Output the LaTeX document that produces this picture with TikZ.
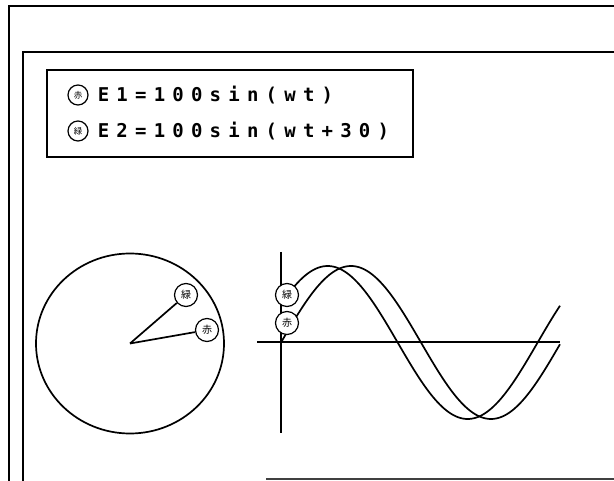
\documentclass[tikz,border=0pt]{standalone}
\usepackage{fontspec}
\newfontfamily\eqfont[LetterSpace=38]{DejaVu Sans Mono Bold}
\newfontfamily\cjk{Noto Sans CJK JP}
\usetikzlibrary{positioning}

\begin{document}
\begin{tikzpicture}[
  x=1pt, y=-1pt,
  frame/.style={line width=2pt},
  axis/.style={line width=2pt},
  wave/.style={line width=1.7pt},
  tag/.style={circle, draw, fill=white, line width=1.2pt, minimum size=23pt, inner sep=0pt, font=\cjk\fontsize{10}{10}\selectfont},
  smalltag/.style={tag, minimum size=20pt, font=\cjk\fontsize{8.5}{8.5}\selectfont},
  eqn/.style={inner sep=0pt, font=\eqfont\fontsize{19}{19}\selectfont},
]
\useasboundingbox (0,0) rectangle (614,481);

% Marcos de ventana
\draw[frame] (9,481) -- (9,6) -- (614,6);
\draw[frame] (23,481) -- (23,52) -- (614,52);
\draw[line width=1.5pt, black!75] (266,479) -- (614,479);

% Leyenda
\draw[frame] (47,70) rectangle (413,157);
\node[smalltag] (ra) at (78,95) {赤};
\node[smalltag] (ga) at (78,131) {緑};
\node[eqn, right=9pt of ra] (e1) {E1=100sin(wt)};
\node[eqn, right=9pt of ga] (e2) {E2=100sin(wt+30)};

% Diagrama de fasores
\coordinate (ctr) at (130,343.5);
\draw[wave] (ctr) circle[x radius=94pt, y radius=90pt];
\node[tag] (rc) at (207,330) {赤};
\node[tag] (gc) at (186,295) {緑};
\draw[wave] (ctr) -- (rc);
\draw[wave] (ctr) -- (gc);

% Ejes de la onda
\coordinate (yt) at (281,252);
\coordinate (yb) at (281,433);
\coordinate (xl) at (257,342.5);
\coordinate (xr) at (560,342.5);
\draw[axis] (yt) -- (yb);
\draw[axis] (xl) -- (xr);

% Ondas senoidales (periodo 280)
\draw[wave] plot[domain=0:279, samples=140] ({281+\x}, {342.5-76.5*sin(\x*1.285714)});
\draw[wave] plot[domain=0:279, samples=140] ({281+\x}, {342.5-76.5*sin(\x*1.285714+30)});
\node[tag] (gs) at (287,295) {緑};
\node[tag] (rs) at (287,323) {赤};

\end{tikzpicture}
\end{document}
